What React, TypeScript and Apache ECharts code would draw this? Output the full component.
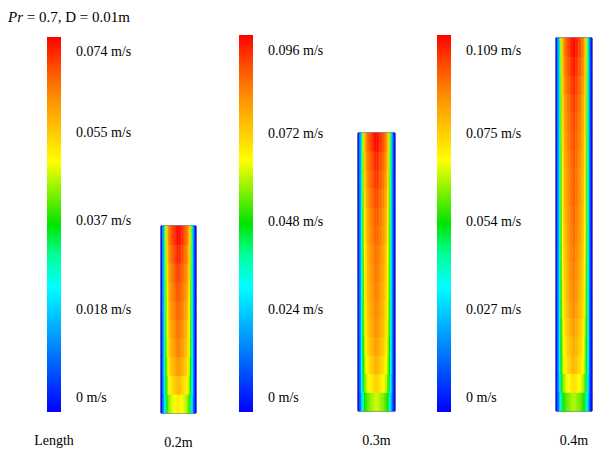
import React, { useEffect, useRef } from "react";
import * as echarts from "echarts";

// ---- data ----
const TITLE_PARAMS = "= 0.7, D = 0.01m";
const LENGTH_HEADER = "Length";
const LENGTHS = ["0.2m", "0.3m", "0.4m"];
const MAX_SPEED = [0.074, 0.096, 0.109]; // m/s, top of each colour bar
const TICKS_02 = ["0", "0.018", "0.037", "0.055", "0.074"];
const TICKS_03 = ["0", "0.024", "0.048", "0.072", "0.096"];
const TICKS_04 = ["0", "0.027", "0.054", "0.075", "0.109"];
const TICKS = [TICKS_02, TICKS_03, TICKS_04];

// radial velocity shape (fraction of centreline), wall -> centre
const RADIAL_HALF = [0.03, 0.2, 0.42, 0.62, 0.76, 0.84, 0.88, 0.91, 0.93, 0.95, 0.97, 0.99];
// centreline velocity (fraction of colour-bar max), bottom -> top, one row per 0.02 m
const CORE_02 = [0.7, 0.78, 0.83, 0.86, 0.88, 0.9, 0.92, 0.94, 0.97, 1.0];
const CORE_03 = [0.64, 0.74, 0.79, 0.82, 0.84, 0.85, 0.86, 0.87, 0.88, 0.9, 0.91, 0.93, 0.95, 0.97, 1.0];
const CORE_04 = [0.62, 0.72, 0.78, 0.8, 0.82, 0.84, 0.85, 0.86, 0.87, 0.88, 0.89, 0.9, 0.9, 0.91, 0.92, 0.93, 0.94, 0.96, 0.98, 1.0];
const CORES = [CORE_02, CORE_03, CORE_04];

const RAINBOW = [
  "#0000ff", "#0040ff", "#0080ff", "#00c0ff", "#00ffff", "#00ff9a", "#00e400",
  "#80f000", "#ffff00", "#ffc800", "#ff9000", "#ff5000", "#ff0000",
];

// ---- layout ----
const FONT = "Liberation Serif";
const BARS = [
  { left: 47, top: 37, h: 377, min: -0.17, max: 4.09, pos: [0, 1, 2, 3, 3.92] },
  { left: 239, top: 35, h: 377, min: -0.16, max: 4.125, pos: [0, 1, 2, 3, 3.95] },
  { left: 437, top: 35, h: 377, min: -0.16, max: 4.125, pos: [0, 1, 2, 3, 3.95] },
];
const COLS = [
  { left: 161, top: 226, w: 35, h: 187 },
  { left: 358, top: 133, w: 37, h: 280 },
  { left: 556, top: 38, w: 36, h: 375 },
];

export default function App() {
  const ref = useRef<HTMLDivElement>(null);
  useEffect(() => {
    if (!ref.current) return;
    const chart = echarts.init(ref.current, undefined, { renderer: "svg" });
    const radial = [...RADIAL_HALF, ...[...RADIAL_HALF].reverse()];
    const grids: any[] = [];
    const xAxes: any[] = [];
    const yAxes: any[] = [];
    const heatmaps: any[] = [];
    const bars: any[] = [];
    const visualMaps: any[] = [];
    const n = RAINBOW.length - 1;
    const gradientStops = RAINBOW.map((_, k) => ({ offset: k / n, color: RAINBOW[n - k] }));

    BARS.forEach((b, i) => {
      grids.push({ left: b.left, top: b.top, width: 14, height: b.h, containLabel: false });
      xAxes.push({
        type: "value", gridIndex: i, min: 0, max: 1,
        axisLine: { show: false }, axisTick: { show: false }, axisLabel: { show: false }, splitLine: { show: false },
        name: i === 0 ? LENGTH_HEADER : "", nameLocation: "middle", nameGap: 21,
        nameTextStyle: { fontFamily: FONT, fontSize: 14, color: "#000" },
      });
      yAxes.push({
        type: "value", gridIndex: i, position: "right", min: b.min, max: b.max,
        axisLine: { show: false }, axisTick: { show: false }, splitLine: { show: false },
        axisLabel: {
          customValues: b.pos,
          margin: 15,
          formatter: (v: number) => `${TICKS[i][Math.round(v)]} m/s`,
          fontFamily: FONT, fontSize: 14, color: "#000",
        },
      });
      bars.push({
        type: "custom", xAxisIndex: i, yAxisIndex: i, data: [[0, b.min, 1, b.max]],
        silent: true,
        renderItem: (_p: any, api: any) => {
          const p0 = api.coord([api.value(0), api.value(3)]);
          const p1 = api.coord([api.value(2), api.value(1)]);
          return {
            type: "rect",
            shape: { x: p0[0], y: p0[1], width: p1[0] - p0[0], height: p1[1] - p0[1] },
            style: { fill: new echarts.graphic.LinearGradient(0, 0, 0, 1, gradientStops) },
          };
        },
      });
    });

    COLS.forEach((c, i) => {
      const gi = 3 + i;
      const core = CORES[i];
      grids.push({ left: c.left, top: c.top, width: c.w, height: c.h, show: true, borderColor: "#10104a", borderWidth: 1, backgroundColor: "transparent" });
      xAxes.push({
        type: "category", gridIndex: gi, data: radial.map((_, k) => k),
        axisLine: { show: false }, axisTick: { show: false }, axisLabel: { show: false }, splitLine: { show: false },
        name: LENGTHS[i], nameLocation: "middle", nameGap: 22,
        nameTextStyle: { fontFamily: FONT, fontSize: 14, color: "#000" },
      });
      yAxes.push({
        type: "category", gridIndex: gi, data: core.map((_, k) => k),
        axisLine: { show: false }, axisTick: { show: false }, axisLabel: { show: false }, splitLine: { show: false },
      });
      const data: number[][] = [];
      core.forEach((cv, r) => {
        radial.forEach((rv, k) => {
          data.push([k, r, cv * rv * MAX_SPEED[i]]);
        });
      });
      heatmaps.push({
        type: "heatmap", xAxisIndex: gi, yAxisIndex: gi, data,
        itemStyle: { borderWidth: 0 }, emphasis: { disabled: true },
      });
      visualMaps.push({
        type: "continuous", seriesIndex: i, dimension: 2, min: 0, max: MAX_SPEED[i],
        show: false,
        inRange: { color: RAINBOW },
      });
    });

    chart.setOption({
      animation: false,
      backgroundColor: "#ffffff",
      title: {
        text: "{i|Pr} " + TITLE_PARAMS, left: 8, top: 9, padding: 0,
        textStyle: {
          fontFamily: FONT, fontSize: 15, fontWeight: "normal", color: "#000",
          rich: { i: { fontFamily: FONT, fontSize: 15, fontStyle: "italic", color: "#000" } },
        },
      },
      grid: grids,
      xAxis: xAxes,
      yAxis: yAxes,
      visualMap: visualMaps,
      series: [...heatmaps, ...bars],
    });
    return () => chart.dispose();
  }, []);
  return (
    <div
      ref={ref}
      style={{ position: "fixed", left: 0, top: 0, width: 594, height: 452, background: "#fff" }}
    />
  );
}
